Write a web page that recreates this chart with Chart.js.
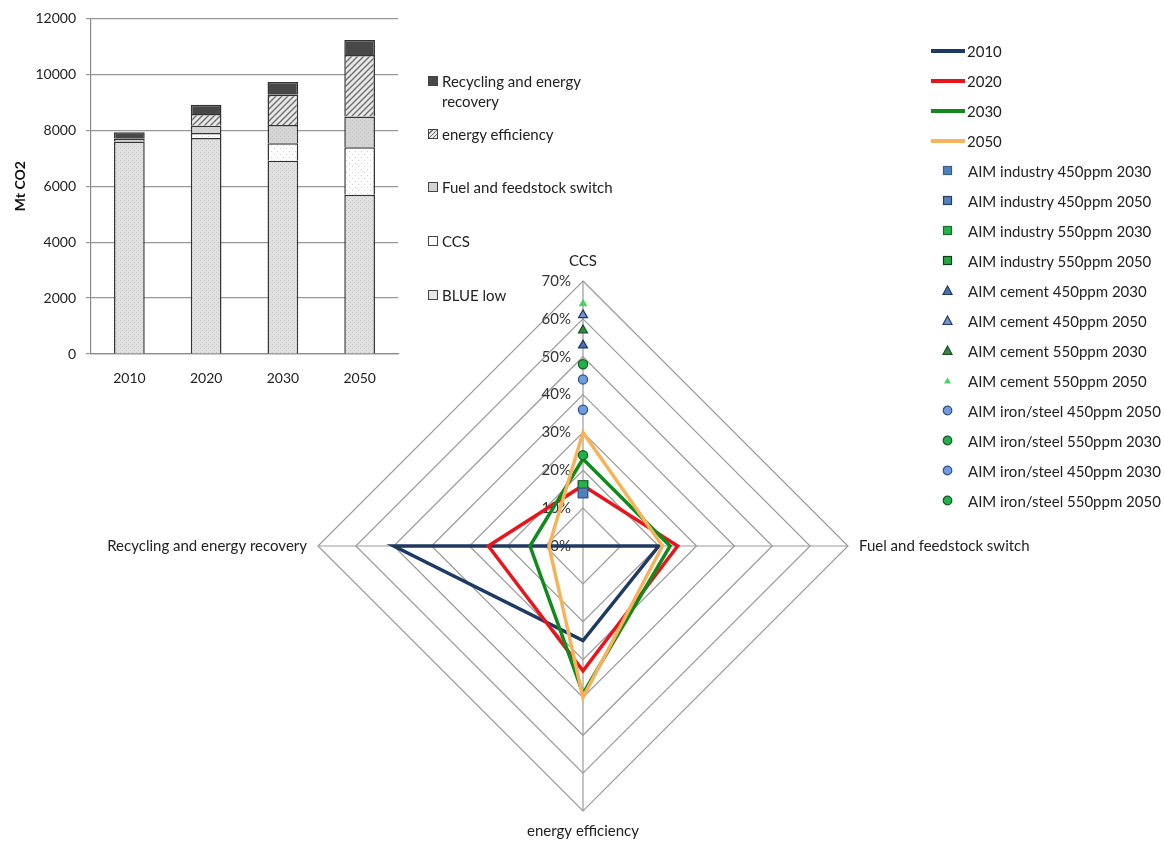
<!DOCTYPE html>
<html>
<head>
<meta charset="utf-8">
<script src="https://cdn.jsdelivr.net/npm/chart.js@4.4.1/dist/chart.umd.min.js"></script>
<style>
  html, body { margin:0; padding:0; background:#fff; }
  body { width:1164px; height:845px; position:relative; overflow:hidden; font-family:Lato, "Open Sans", sans-serif; color:#222; }
  #radar { position:absolute; left:0; top:0; }
  #bars { position:absolute; left:0; top:0; z-index:2; }
  .leg { position:absolute; font-size:15px; z-index:3; }
  .bitem { position:absolute; left:427px; line-height:20px; }
  .bsw { position:absolute; left:1px; top:5px; width:10px; height:10px; border:1px solid #444; box-sizing:border-box; }
  .btxt { position:absolute; left:15px; top:0; white-space:nowrap; }
  .ritem { position:absolute; left:931px; height:30px; line-height:30px; white-space:nowrap; }
  .rline { position:absolute; left:0; top:13px; width:34px; height:3.5px; }
  .rtxt { position:absolute; top:0; }
  .rmk { position:absolute; left:10px; top:8px; }
</style>
</head>
<body>
<canvas id="radar" width="1164" height="845"></canvas>
<canvas id="bars" width="420" height="400"></canvas>
<div id="barLegend" class="leg"></div>
<div id="radarLegend" class="leg"></div>
<script>
// ---------------- DATA ----------------
// Stacked bar chart (Mt CO2)
const years = ['2010', '2020', '2030', '2050'];
const blueLow    = [7600, 7720, 6910, 5690];
const ccsBar     = [0, 180, 630, 1700];
const fuelSwitch = [100, 260, 650, 1100];
const energyEff  = [0, 420, 1080, 2200];
const recycling  = [230, 330, 460, 540];
const barSeriesNames = ['BLUE low', 'CCS', 'Fuel and feedstock switch', 'energy efficiency', 'Recycling and energy recovery'];
const barTicks = [0, 2000, 4000, 6000, 8000, 10000, 12000];

// Radar chart (share, %)
const radarAxes = ['CCS', 'Fuel and feedstock switch', 'energy efficiency', 'Recycling and energy recovery'];
const radarTicks = [0, 10, 20, 30, 40, 50, 60, 70];
const r2010 = [0, 20, 25, 50];
const r2020 = [16, 25, 33, 25];
const r2030 = [23, 23, 39, 14];
const r2050 = [30, 21, 40, 9];
const lineNames = ['2010', '2020', '2030', '2050'];

// AIM model points (CCS share, %)
const aimNames = [
  'AIM industry 450ppm 2030', 'AIM industry 450ppm 2050',
  'AIM industry 550ppm 2030', 'AIM industry 550ppm 2050',
  'AIM cement 450ppm 2030', 'AIM cement 450ppm 2050',
  'AIM cement 550ppm 2030', 'AIM cement 550ppm 2050',
  'AIM iron/steel 450ppm 2050', 'AIM iron/steel 550ppm 2030',
  'AIM iron/steel 450ppm 2030', 'AIM iron/steel 550ppm 2050'
];
const aimCCS = [14, 14, 16, 16, 53, 61, 57, 64, 44, 24, 36, 48];

// ---------------- STYLES ----------------
const lineColors = ['#1f3a60', '#e8161c', '#12891c', '#f7b35b'];
const aimShapes = ['rect','rect','rect','rect','triangle','triangle','triangle','triangle','circle','circle','circle','circle'];
const aimFill   = ['#4f81bd','#4f81bd','#22b34a','#22a844','#4a70b8','#6f93d6','#2e8b3e','#4fd066','#6f9be0','#22b04a','#6f9be0','#22b04a'];
const aimBorder = ['#3a5f8f','#27405f','#1b6b2e','#0d3d18','#1f3864','#1f3864','#1a4d24','#4fd066','#2f4f8f','#0f5a20','#2f4f8f','#0f5a20'];
const aimRadius = [6.6, 6.6, 6.6, 6.6, 5.2, 5.2, 5.2, 3.8, 4.6, 4.6, 4.6, 4.6];

function makePattern(base, draw, size) {
  const c = document.createElement('canvas');
  c.width = size; c.height = size;
  const g = c.getContext('2d');
  g.fillStyle = base; g.fillRect(0, 0, size, size);
  draw(g, size);
  return g.createPattern(c, 'repeat');
}
const patBlue = makePattern('#e1e1e1', (g) => { g.fillStyle = '#c6c6c6'; g.fillRect(0,0,1,1); g.fillRect(2,2,1,1); }, 4);
const patCCS = makePattern('#fdfdfd', (g) => { g.fillStyle = '#d0d0d0'; g.fillRect(1,1,1,1); g.fillRect(4,4,1,1); }, 6);
const patFuel = makePattern('#d4d4d4', (g) => { g.fillStyle = '#c8c8c8'; g.fillRect(0,0,1,1); g.fillRect(2,2,1,1); }, 4);
const patEE = makePattern('#e8e8e8', (g, s) => {
  g.strokeStyle = '#6e6e6e'; g.lineWidth = 1.4;
  g.beginPath();
  g.moveTo(0, s); g.lineTo(s, 0);
  g.moveTo(-1, 1); g.lineTo(1, -1);
  g.moveTo(s - 1, s + 1); g.lineTo(s + 1, s - 1);
  g.stroke();
}, 6);
const barFills = [patBlue, patCCS, patFuel, patEE, '#484848'];
const barData = [blueLow, ccsBar, fuelSwitch, energyEff, recycling];

// ---------------- BAR CHART ----------------
new Chart(document.getElementById('bars'), {
  type: 'bar',
  data: {
    labels: years,
    datasets: barSeriesNames.map((n, i) => ({
      label: n, data: barData[i], backgroundColor: barFills[i],
      borderColor: '#333', borderWidth: 1.5,
      barPercentage: 0.4, categoryPercentage: 1
    }))
  },
  options: {
    responsive: false, animation: false, devicePixelRatio: 1,
    layout: { padding: { top: 17, right: 22, bottom: 0, left: 0 } },
    plugins: { legend: { display: false }, tooltip: { enabled: false } },
    scales: {
      x: {
        stacked: true,
        grid: { display: false, drawTicks: false },
        border: { display: true, color: '#8c8c8c', width: 1.2 },
        ticks: { font: { family: 'Lato', size: 14 }, color: '#222', padding: 16 },
        afterFit: (s) => { s.height = 46; }
      },
      y: {
        stacked: true, min: 0, max: 12000,
        afterBuildTicks: (s) => { s.ticks = barTicks.map(v => ({ value: v })); },
        grid: { color: '#989898', lineWidth: 1.2, tickLength: 5 },
        border: { display: true, color: '#8c8c8c', width: 1.2 },
        ticks: { font: { family: 'Lato', size: 14 }, color: '#222', padding: 10, callback: (v) => String(v) },
        title: { display: true, text: 'Mt CO2', font: { family: 'Lato', size: 14, weight: 'bold' }, color: '#111', padding: { top: 12, bottom: 0 } },
        afterFit: (s) => { s.width = 91; }
      }
    }
  }
});

// ---------------- RADAR CHART ----------------
const radarTickPlugin = {
  id: 'radarTickLabels',
  beforeDatasetsDraw(chart) {
    const s = chart.scales.r, ctx = chart.ctx;
    ctx.save();
    ctx.font = '15px Lato';
    ctx.fillStyle = '#333';
    ctx.textAlign = 'right';
    ctx.textBaseline = 'middle';
    radarTicks.forEach(v => {
      const d = s.getDistanceFromCenterForValue(v);
      ctx.fillText(v + '%', s.xCenter - 12, s.yCenter - d);
    });
    ctx.restore();
  }
};

const lineData = [r2010, r2020, r2030, r2050];
const radarDatasets = lineNames.map((n, i) => ({
  label: n, data: lineData[i], borderColor: lineColors[i], backgroundColor: lineColors[i],
  borderWidth: 3.5, pointRadius: 0, fill: false, order: 4 - i
}));
aimNames.forEach((n, i) => {
  radarDatasets.push({
    label: n, data: [aimCCS[i], null, null, null], showLine: false,
    pointStyle: aimShapes[i], pointRadius: aimRadius[i],
    pointBackgroundColor: aimFill[i], pointBorderColor: aimBorder[i], pointBorderWidth: 1.2,
    borderColor: aimBorder[i], backgroundColor: aimFill[i], order: 0
  });
});

new Chart(document.getElementById('radar'), {
  type: 'radar',
  data: { labels: radarAxes, datasets: radarDatasets },
  options: {
    responsive: false, animation: false, devicePixelRatio: 1,
    layout: { padding: { top: 252, bottom: 5, left: 2, right: 0 } },
    plugins: { legend: { display: false }, tooltip: { enabled: false } },
    elements: { line: { tension: 0 } },
    scales: {
      r: {
        min: 0, max: 70,
        ticks: { stepSize: 10, display: false },
        grid: { color: '#9a9a9a', lineWidth: 1.2 },
        angleLines: { color: '#9a9a9a', lineWidth: 1.2 },
        pointLabels: { font: { family: 'Lato', size: 15 }, color: '#222', padding: 11 }
      }
    }
  },
  plugins: [radarTickPlugin]
});

// ---------------- LEGENDS (HTML) ----------------
const barLegendTops = [71, 124, 177, 231, 285];
const barSw = {
  'Recycling and energy recovery': 'background:#484848;',
  'energy efficiency': 'background:repeating-linear-gradient(135deg,#e8e8e8 0 2px,#6e6e6e 2px 3px);',
  'Fuel and feedstock switch': 'background:#d3d3d3;',
  'CCS': 'background:#fff;',
  'BLUE low': 'background:#e6e6e6;'
};
const bl = document.getElementById('barLegend');
barSeriesNames.slice().reverse().forEach((n, i) => {
  const d = document.createElement('div');
  d.className = 'bitem';
  d.style.top = barLegendTops[i] + 'px';
  const txt = n === 'Recycling and energy recovery' ? 'Recycling and energy<br>recovery' : n;
  d.innerHTML = '<span class="bsw" style="' + barSw[n] + '"></span><span class="btxt">' + txt + '</span>';
  bl.appendChild(d);
});

const rl = document.getElementById('radarLegend');
function markerSvg(i) {
  const f = aimFill[i], b = aimBorder[i];
  let shape;
  if (aimShapes[i] === 'rect') shape = '<rect x="2.5" y="2.5" width="8" height="8" fill="' + f + '" stroke="' + b + '" stroke-width="1.2"/>';
  else if (aimShapes[i] === 'triangle') {
    shape = i === 7 ? '<polygon points="6.5,3.5 10,9.5 3,9.5" fill="' + f + '"/>'
                    : '<polygon points="6.5,2 11,10.5 2,10.5" fill="' + f + '" stroke="' + b + '" stroke-width="1.2"/>';
  } else shape = '<circle cx="6.5" cy="6.5" r="4.3" fill="' + f + '" stroke="' + b + '" stroke-width="1.2"/>';
  return '<svg class="rmk" width="13" height="13">' + shape + '</svg>';
}
lineNames.forEach((n, i) => {
  const d = document.createElement('div');
  d.className = 'ritem';
  d.style.top = (36 + 30 * i) + 'px';
  d.innerHTML = '<span class="rline" style="background:' + lineColors[i] + '"></span><span class="rtxt" style="left:36px">' + n + '</span>';
  rl.appendChild(d);
});
aimNames.forEach((n, i) => {
  const d = document.createElement('div');
  d.className = 'ritem';
  d.style.top = (36 + 30 * (i + 4)) + 'px';
  d.innerHTML = markerSvg(i) + '<span class="rtxt" style="left:37px">' + n + '</span>';
  rl.appendChild(d);
});
</script>
</body>
</html>
